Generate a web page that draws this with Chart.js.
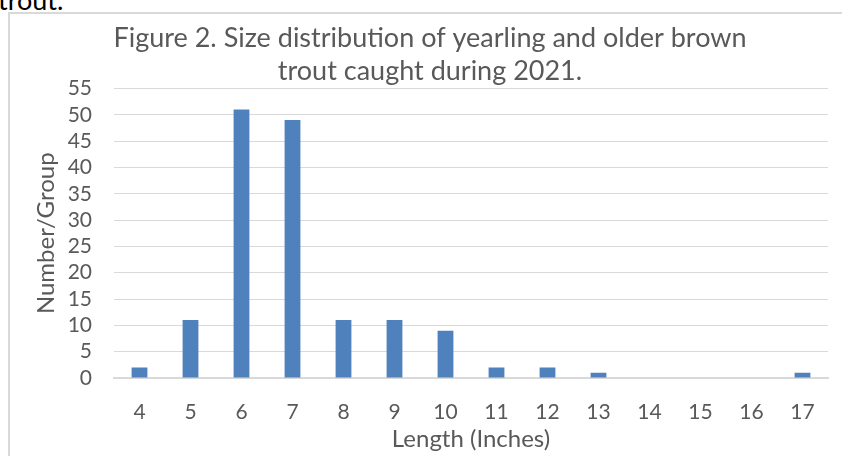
<!DOCTYPE html>
<html>
<head>
<meta charset="utf-8">
<script src="https://cdn.jsdelivr.net/npm/chart.js@4"></script>
<style>
  html, body { margin: 0; padding: 0; background: #fff; overflow: hidden; width: 842px; height: 456px; }
  #doc { position: absolute; left: -2px; top: -14px; font-family: Lato, sans-serif; font-size: 27px; line-height: 27px; color: #000; }
  #frame { position: absolute; left: 8px; top: 12px; width: 900px; height: 500px; border-left: 2px solid #d9d9d9; border-top: 2px solid #d9d9d9; }
  #wrap { position: absolute; left: 0; top: 0; width: 832px; height: 442px; }
</style>
</head>
<body>
<div id="doc">trout.</div>
<div id="frame"><div id="wrap"><canvas id="grafica"></canvas></div></div>
<script>
var longitudes = ['4','5','6','7','8','9','10','11','12','13','14','15','16','17'];
var cantidades = [2, 11, 51, 49, 11, 11, 9, 2, 2, 1, 0, 0, 0, 1];
var titulo = ['Figure 2. Size distribution of yearling and older brown', 'trout caught during 2021.'];
var gris = '#595959';
var fuente = 'Lato, sans-serif';

var barras = {
    label: 'Number/Group',
    data: cantidades,
    backgroundColor: '#4f81bd',
    borderWidth: 0,
    barPercentage: 0.62,
    categoryPercentage: 0.5
};

var config = {
    type: 'bar',
    data: { labels: longitudes, datasets: [barras] },
    options: {
        responsive: true,
        maintainAspectRatio: false,
        animation: false,
        layout: { padding: { left: 22, right: 14, top: 0, bottom: 2 } },
        plugins: {
            legend: { display: false },
            tooltip: { enabled: false },
            title: {
                display: true,
                text: titulo,
                color: gris,
                font: { family: fuente, size: 27, weight: 'normal', lineHeight: 1.25 },
                padding: { top: 7, bottom: 0 }
            }
        },
        scales: {
            x: {
                grid: { display: false },
                border: { color: '#d9d9d9', width: 2 },
                ticks: { color: gris, font: { family: fuente, size: 21 }, padding: 14, autoSkip: false, maxRotation: 0 },
                title: { display: true, text: 'Length (Inches)', color: gris, font: { family: fuente, size: 24 }, padding: { top: 2, bottom: 0 } },
                afterFit: function(scale) { scale.height = 76; }
            },
            y: {
                min: 0,
                max: 55,
                ticks: { stepSize: 5, color: gris, font: { family: fuente, size: 21 }, padding: 22, autoSkip: false },
                grid: { color: '#d9d9d9', drawTicks: false },
                border: { display: false },
                title: { display: true, text: 'Number/Group', color: gris, font: { family: fuente, size: 24 }, padding: { top: 0, bottom: 0 } },
                afterFit: function(scale) { scale.width = 82; }
            }
        }
    }
};

var grafica = new Chart(document.getElementById('grafica'), config);
</script>
</body>
</html>
